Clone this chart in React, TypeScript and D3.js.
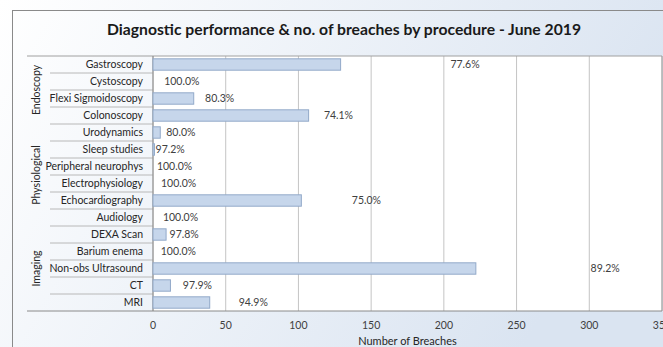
import React from "react";
import * as d3 from "d3";

const categories = [
  "Gastroscopy", "Cystoscopy", "Flexi Sigmoidoscopy", "Colonoscopy",
  "Urodynamics", "Sleep studies", "Peripheral neurophys", "Electrophysiology", "Echocardiography", "Audiology",
  "DEXA Scan", "Barium enema", "Non-obs Ultrasound", "CT", "MRI",
];
const groups = ["Endoscopy", "Physiological", "Imaging"];
const groupSizes = [4, 6, 5];
const breaches = [129, 0, 28, 107, 5, 1, 0, 0, 102, 0, 9, 0, 222, 12, 39];
const performance = [
  "77.6%", "100.0%", "80.3%", "74.1%",
  "80.0%", "97.2%", "100.0%", "100.0%", "75.0%", "100.0%",
  "97.8%", "100.0%", "89.2%", "97.9%", "94.9%",
];
// where the (hidden-series) percentage label starts, in breach units
const labelAt = [204.5, 7.7, 35.8, 117.5, 9.1, 1.8, 2.7, 5.5, 136.7, 6.8, 11.4, 5.3, 300.9, 20.5, 58.9];
const xTicks = [0, 50, 100, 150, 200, 250, 300, 350];
const title = "Diagnostic performance & no. of breaches by procedure - June 2019";
const xTitle = "Number  of Breaches";

const W = 663, H = 347;
const L = 153, R = 662, T = 56, B = 311;
const FONT = "Lato, 'Open Sans', sans-serif";

export default function App() {
  const x = d3.scaleLinear().domain([0, 350]).range([L, R]);
  const y = d3.scaleBand<number>().domain(d3.range(categories.length)).range([T, B]).paddingInner(0.33).paddingOuter(0.165);
  const row = d3.scaleBand<number>().domain(d3.range(categories.length)).range([T, B]);
  const bw = row.bandwidth();
  const starts = d3.cumsum([0, ...groupSizes]);

  return (
    <svg width={W} height={H} style={{ position: "absolute", left: 0, top: 0 }}>
      <defs>
        <linearGradient id="bg" x1="0" y1="0" x2="1" y2="0.3">
          <stop offset="0" stopColor="#ffffff" />
          <stop offset="1" stopColor="#dae4f1" />
        </linearGradient>
      </defs>
      <rect x={0} y={0} width={W} height={H} fill="url(#bg)" />
      <rect x={12.5} y={10.5} width={W + 20} height={H + 20} fill="none" stroke="#8a8a8a" strokeWidth={1} />
      <text x={344} y={35} textAnchor="middle" fontFamily={FONT} fontWeight="bold" fontSize={16} fill="#1a1a1a"
        textLength={474} lengthAdjust="spacingAndGlyphs">{title}</text>

      <rect x={L} y={T} width={R - L} height={B - T} fill="#ffffff" />
      {xTicks.map((t) => (
        <line key={"g" + t} x1={x(t)} x2={x(t)} y1={T} y2={B} stroke="#c4c4c4" strokeWidth={1} />
      ))}
      <line x1={R} x2={R} y1={T} y2={B} stroke="#a0a0a0" />
      {/* category separators */}
      {categories.map((c, i) => (
        i > 0 ? <line key={"s" + i} x1={50} x2={L} y1={T + i * bw} y2={T + i * bw} stroke="#b8b8b8" /> : null
      ))}
      {starts.slice(1, -1).map((s, i) => (
        <line key={"gs" + i} x1={27} x2={L} y1={T + s * bw} y2={T + s * bw} stroke="#a8a8a8" />
      ))}
      <line x1={27} x2={R} y1={T} y2={T} stroke="#a0a0a0" />
      <line x1={27} x2={R} y1={B} y2={B} stroke="#8a8a8a" />
      <line x1={L} x2={L} y1={T} y2={B} stroke="#8a8a8a" />

      {breaches.map((v, i) => (
        v > 0 ? (
          <rect key={"b" + i} x={x(0)} y={y(i)} width={x(v) - x(0)} height={y.bandwidth()}
            fill="#c6d6eb" stroke="#92a9c9" strokeWidth={1} />
        ) : null
      ))}
      {performance.map((p, i) => (
        <text key={"p" + i} x={x(labelAt[i])} y={row(i)! + bw / 2} dy="0.35em" fontFamily={FONT} fontSize={10.5} fill="#404040">{p}</text>
      ))}
      {categories.map((c, i) => (
        <text key={"c" + i} x={143} y={row(i)! + bw / 2} dy="0.35em" textAnchor="end" fontFamily={FONT} fontSize={10.5} fill="#262626">{c}</text>
      ))}
      {groups.map((g, i) => {
        const cy = T + ((starts[i] + starts[i + 1]) / 2) * bw;
        return (
          <text key={"gr" + i} transform={`translate(36,${cy}) rotate(-90)`} textAnchor="middle" dy="0.35em"
            fontFamily={FONT} fontSize={10.5} fill="#262626">{g}</text>
        );
      })}
      {xTicks.map((t) => (
        <text key={"t" + t} x={x(t)} y={329} textAnchor="middle" fontFamily={FONT} fontSize={10.5} fill="#404040">{t}</text>
      ))}
      <text x={(L + R) / 2} y={345} textAnchor="middle" fontFamily={FONT} fontSize={11} fill="#262626">{xTitle}</text>
    </svg>
  );
}
